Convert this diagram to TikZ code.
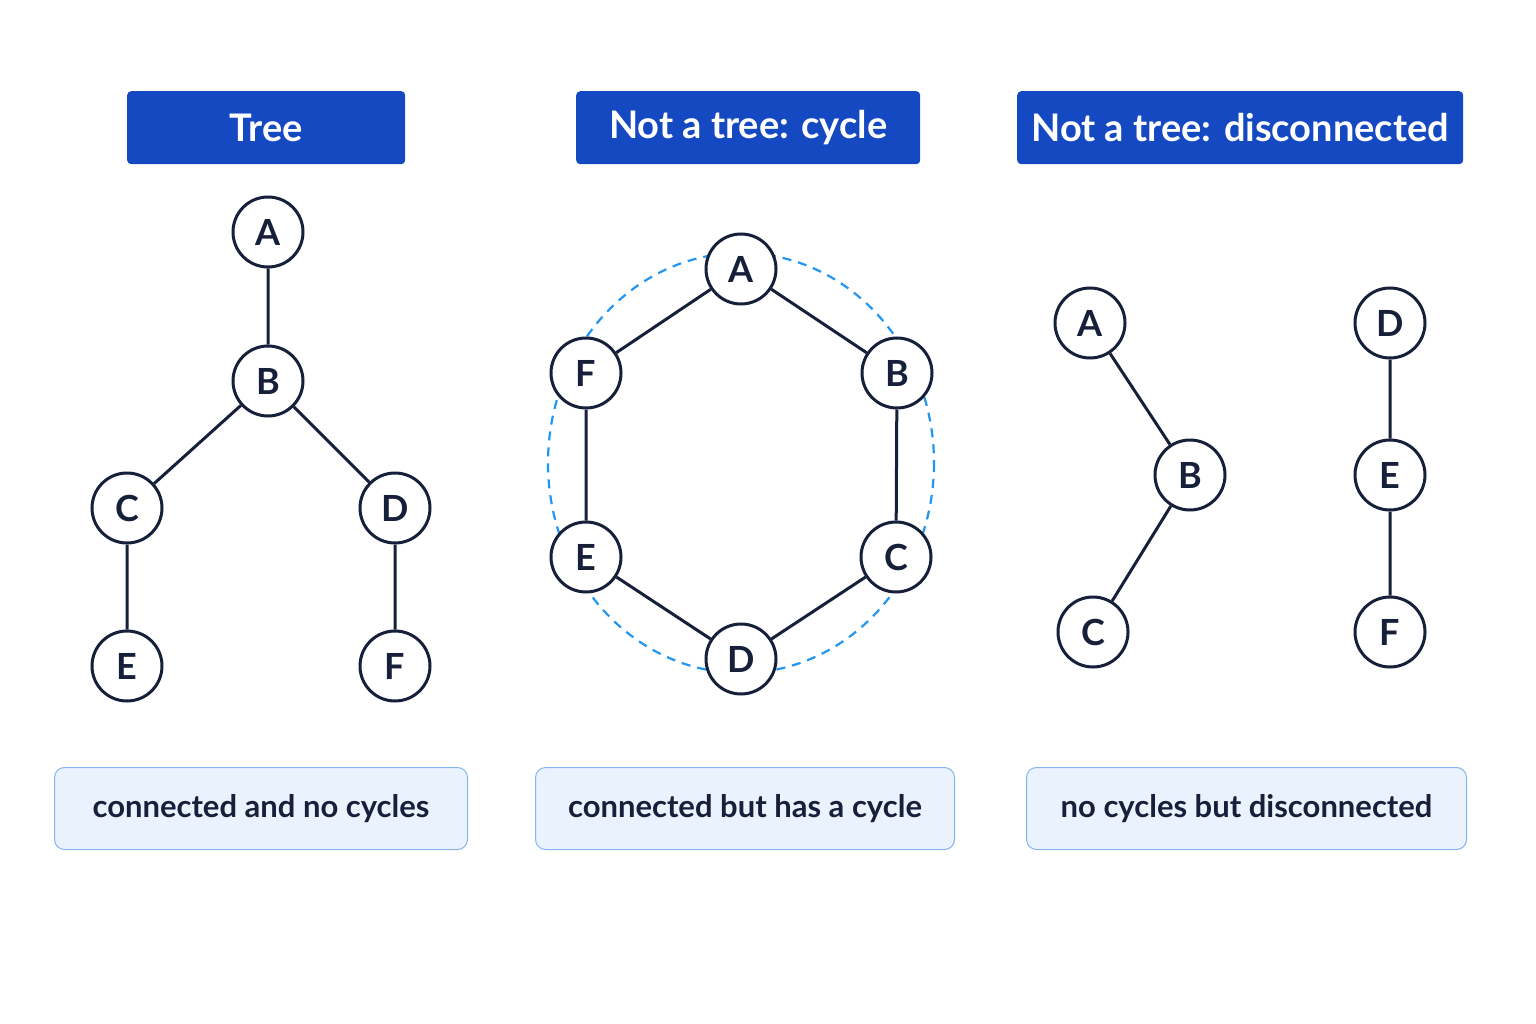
\documentclass[tikz,border=0pt]{standalone}
\usepackage{fontspec}
\setmainfont{Lato}
\definecolor{hdr}{HTML}{1449C2}
\definecolor{ink}{HTML}{17203A}
\definecolor{cap}{HTML}{EAF2FE}
\definecolor{capb}{HTML}{86B2F0}
\definecolor{cycblue}{HTML}{2196F3}
\begin{document}
\begin{tikzpicture}[x=1pt,y=-1pt,
  v/.style={circle,draw=ink,line width=3pt,fill=white,minimum size=70pt,inner sep=0pt,font=\fontsize{36}{36}\selectfont\bfseries\color{ink}},
  e/.style={draw=ink,line width=3pt},
  head/.style={fill=hdr,rounded corners=4pt,text=white,font=\fontsize{38}{38}\selectfont\bfseries,anchor=north west},
  capt/.style={fill=cap,draw=capb,line width=1pt,rounded corners=10pt,text=ink,font=\fontsize{31}{31}\selectfont\bfseries,anchor=north west}]
\useasboundingbox[fill=white] (0,0) rectangle (1536,1024);
% headers
\node[head,minimum width=278pt,minimum height=73pt] (h1) at (127,91) {Tree};
\node[head,minimum width=344pt,minimum height=73pt] (h2) at (576,91) {Not a tree: cycle};
\node[head,minimum width=446pt,minimum height=73pt] (h3) at (1017,91) {Not a tree: disconnected};
% captions
\node[capt,minimum width=413pt,minimum height=82pt] (c1) at (54,767) {connected and no cycles};
\node[capt,minimum width=419pt,minimum height=82pt] (c2) at (535,767) {connected but has a cycle};
\node[capt,minimum width=440pt,minimum height=82pt] (c3) at (1026,767) {no cycles but disconnected};
% tree
\node[v] (tA) at (268,232) {A};
\node[v] (tB) at (268,381) {B};
\node[v] (tC) at (127,508) {C};
\node[v] (tD) at (395,508) {D};
\node[v] (tE) at (127,666) {E};
\node[v] (tF) at (395,666) {F};
\draw[e] (tA)--(tB) (tB)--(tC) (tB)--(tD) (tC)--(tE) (tD)--(tF);
% cycle
\draw[cycblue,line width=2.2pt,dash pattern=on 9pt off 7pt] (741,463) ellipse [x radius=193, y radius=210];
\node[v] (yA) at (741,269) {A};
\node[v] (yB) at (897,373) {B};
\node[v] (yC) at (896,557) {C};
\node[v] (yD) at (741,659) {D};
\node[v] (yE) at (586,557) {E};
\node[v] (yF) at (586,373) {F};
\draw[e] (yA)--(yB) (yB)--(yC) (yC)--(yD) (yD)--(yE) (yE)--(yF) (yF)--(yA);
% disconnected
\node[v] (dA) at (1090,323) {A};
\node[v] (dB) at (1190,475) {B};
\node[v] (dC) at (1093,632) {C};
\node[v] (dD) at (1390,323) {D};
\node[v] (dE) at (1390,475) {E};
\node[v] (dF) at (1390,632) {F};
\draw[e] (dA)--(dB) (dB)--(dC) (dD)--(dE) (dE)--(dF);
\end{tikzpicture}
\end{document}
